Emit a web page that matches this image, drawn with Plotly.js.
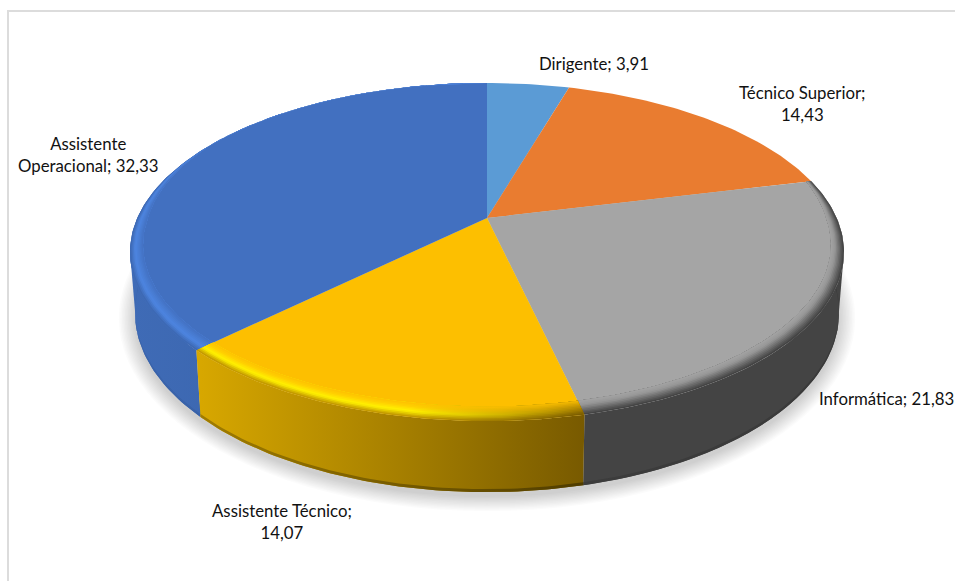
<!DOCTYPE html>
<html>
<head>
<meta charset="utf-8">
<script src="https://cdn.plot.ly/plotly-3.0.1.min.js"></script>
<style>html,body{margin:0;padding:0;background:#fff;overflow:hidden}#chart{width:955px;height:581px}</style>
</head>
<body>
<div id="chart"></div>
<script>
// Pessoal por carreira: pie with a perspective tilt and a raised edge
const categories = ["Dirigente", "Técnico Superior", "Informática", "Assistente Técnico", "Assistente Operacional"];
const values = [3.91, 14.43, 21.83, 14.07, 32.33];
const faceColors = ["#5b9bd5", "#e97c30", "#a5a5a5", "#fdbf00", "#4270c0"];

// Wall shading per slice, left to right (null = wall not visible)
const wallColors = [null, null, ["#444444", "#444444"], ["#d8a800", "#785a00"], ["#3f6bb6", "#345da2"]];
const wallEdge = [null, null, ["#3c3c3c", "#3a3a3a"], ["#a07c00", "#4f3c00"], ["#3a64ac", "#305898"]];

// Bevel shading per slice: colours from the outer edge inwards, at left and right
const greyBevel = [[0, "#444444"], [0.3, "#6a6a6a"], [0.65, "#979797"], [1, "#a5a5a5"]];
const blueBevel = [[0, "#3d69b4"], [0.35, "#4d85e0"], [1, "#4270c0"]];
const bevelLeft = [null, null, greyBevel,
  [[0, "#c49a00"], [0.35, "#fff200"], [0.7, "#ffcf00"], [1, "#fdbf00"]], blueBevel];
const bevelRight = [null, null, greyBevel,
  [[0, "#7a5c00"], [0.5, "#b88c00"], [1, "#fdbf00"]], blueBevel];

// Projection of the disk onto the screen (top plane and bottom plane)
const centerX = 487, tilt = 0.2012;
const topPlane = {y0: 218, rx: 349.7, sy: 162.2};
const basePlane = {y0: 277, rx: 344.8, sy: 171.8};

function project(angleDeg, r, plane) {
  const a = angleDeg * Math.PI / 180;
  const u = r * Math.sin(a), v = r * Math.cos(a);
  const d = 1 + tilt * v;
  return [centerX + plane.rx * u / d, plane.y0 - plane.sy * v / d];
}
function sweep(a0, a1) {
  const out = [], n = Math.max(2, Math.ceil(Math.abs(a1 - a0)));
  for (let i = 0; i <= n; i++) out.push(a0 + (a1 - a0) * i / n);
  return out;
}
function bevelDepth(angleDeg) {
  const v = Math.cos(angleDeg * Math.PI / 180);
  if (v >= 0.5) return 0;
  return v > 0 ? 0.03 * (1 - 2 * v) : 0.03 - 0.028 * v;
}
function hexRgb(h) { return [1, 3, 5].map(i => parseInt(h.substr(i, 2), 16)); }
function ramp(stops, t) {
  for (let i = 1; i < stops.length; i++) {
    if (t <= stops[i][0]) {
      const f = (t - stops[i - 1][0]) / (stops[i][0] - stops[i - 1][0]);
      const a = hexRgb(stops[i - 1][1]), b = hexRgb(stops[i][1]);
      return "rgb(" + a.map((c, k) => Math.round(c + (b[k] - c) * f)).join(",") + ")";
    }
  }
  return stops[stops.length - 1][1];
}
function polygon(pts, extra) {
  return Object.assign({
    type: "scatter", mode: "lines", x: pts.map(p => p[0]), y: pts.map(p => p[1]),
    fill: "toself", line: {width: 0}, hoverinfo: "skip", showlegend: false
  }, extra);
}

const total = values.reduce((a, b) => a + b, 0);
const edges = [0];
values.forEach(v => edges.push(edges[edges.length - 1] + v / total * 360));

const traces = [];

// Soft shadow on the ground
for (let i = 0; i < 12; i++) {
  const pts = [];
  for (let a = 0; a <= 360; a += 3) {
    const p = project(a, 1, basePlane);
    pts.push([centerX + (p[0] - centerX) * (1 + (11 - i) * 0.0042), 318 + (p[1] - 313) * (1 + (11 - i) * 0.0072)]);
  }
  traces.push(polygon(pts, {fillcolor: "rgba(0,0,0,0.016)", name: "shadow"}));
}

// Tangent fillers joining the widest points of the top rim to the base curve
traces.push(polygon([project(258.4, 1, topPlane), project(253, 1, basePlane), project(225, 1, basePlane), project(258.4, 0.9, topPlane)],
  {fillcolor: wallColors[4][0], name: "left wall"}));
traces.push(polygon([project(101.6, 1, topPlane), project(107, 1, basePlane), project(135, 1, basePlane), project(101.6, 0.9, topPlane)],
  {fillcolor: wallColors[2][0], name: "right wall"}));

// Side walls, drawn in order so the nearer ones overlap cleanly
[2, 4, 3].forEach(i => {
  const angles = sweep(edges[i], edges[i + 1]);
  const pts = angles.map(a => project(a, 1, topPlane))
    .concat(angles.slice().reverse().map(a => project(a, 1, basePlane)));
  traces.push(polygon(pts, {
    name: categories[i] + " wall",
    fillgradient: {type: "horizontal", colorscale: [[0, wallColors[i][0]], [1, wallColors[i][1]]]}
  }));
  // darker lip along the lower edge of the wall
  const lip = angles.map(a => project(a, 1, basePlane))
    .concat(angles.slice().reverse().map(a => { const p = project(a, 1, basePlane); return [p[0], p[1] - 3]; }));
  traces.push(polygon(lip, {
    name: categories[i] + " lip",
    fillgradient: {type: "horizontal", colorscale: [[0, wallEdge[i][0]], [1, wallEdge[i][1]]]}
  }));
});

// Flat top faces
categories.forEach((c, i) => {
  const pts = [project(0, 0, topPlane)].concat(sweep(edges[i], edges[i + 1]).map(a => project(a, 1, topPlane)));
  pts.push(pts[0]);
  traces.push(polygon(pts, {name: c, fillcolor: faceColors[i]}));
});

// Bevel: nested bands running from the outer rim in to the flat face
const bandCount = 10;
[2, 4, 3].forEach(i => {
  const angles = sweep(edges[i], edges[i + 1]);
  for (let b = 0; b < bandCount; b++) {
    const t = b / bandCount;
    const outer = angles.map(a => project(a, 1 - bevelDepth(a) * t, topPlane));
    const inner = angles.slice().reverse().map(a => project(a, 1 - bevelDepth(a), topPlane));
    traces.push(polygon(outer.concat(inner), {
      name: categories[i] + " bevel",
      fillgradient: {type: "horizontal", colorscale: [
        [0, ramp(bevelLeft[i], t)], [0.55, ramp(bevelLeft[i], t)], [1, ramp(bevelRight[i], t)]
      ]}
    }));
  }
});

const fmt = v => v.toFixed(2).replace(".", ",");
const labelText = [
  `${categories[0]}; ${fmt(values[0])}`,
  `${categories[1]};<br>${fmt(values[1])}`,
  `${categories[2]}; ${fmt(values[2])}`,
  `${categories[3]};<br>${fmt(values[3])}`,
  `Assistente<br>Operacional; ${fmt(values[4])}`
];
const labelX = [594, 802, 817, 282, 88];
const labelY = [63, 103, 398, 521, 154];
const labelAnchor = ["center", "center", "left", "center", "center"];

const layout = {
  width: 955, height: 581, margin: {l: 0, r: 0, t: 0, b: 0},
  paper_bgcolor: "#ffffff", plot_bgcolor: "#ffffff", showlegend: false,
  xaxis: {range: [0, 955], visible: false, fixedrange: true},
  yaxis: {range: [581, 0], visible: false, fixedrange: true},
  shapes: [
    {type: "line", x0: 7, x1: 955, y0: 11, y1: 11, line: {color: "#dcdcdc", width: 2}},
    {type: "line", x0: 8, x1: 8, y0: 10, y1: 581, line: {color: "#dcdcdc", width: 2}}
  ],
  annotations: labelText.map((text, i) => ({
    text, x: labelX[i], y: labelY[i], xref: "x", yref: "y", showarrow: false,
    xanchor: labelAnchor[i], yanchor: "middle", align: "center",
    font: {family: "Lato, sans-serif", size: 16.8, color: "#111111"}
  }))
};
Plotly.newPlot("chart", traces, layout, {displayModeBar: false, staticPlot: true});
</script>
</body>
</html>
